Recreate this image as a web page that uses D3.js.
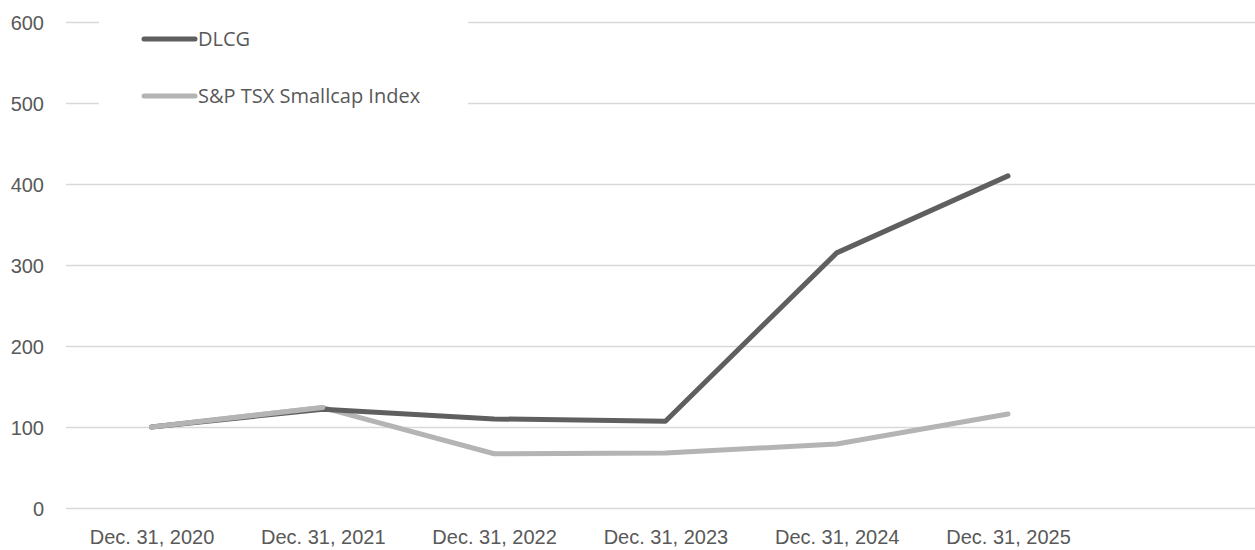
<!DOCTYPE html>
<html>
<head>
<meta charset="utf-8">
<script src="https://cdn.jsdelivr.net/npm/d3@7.9.0/dist/d3.min.js"></script>
<style>
  html, body { margin: 0; padding: 0; background: #fff; }
  svg { display: block; font-family: "Open Sans", sans-serif; }
  .grid line { stroke: #d9d9d9; stroke-width: 1.5; }
  .grid .domain { display: none; }
  .tick text { fill: #595959; font-size: 20px; }
  .legend text { fill: #595959; font-size: 20px; }
</style>
</head>
<body>
<div id="chart"></div>
<script>
// data
const dates = ["Dec. 31, 2020", "Dec. 31, 2021", "Dec. 31, 2022", "Dec. 31, 2023", "Dec. 31, 2024", "Dec. 31, 2025"];
const dlcg = [100, 122, 110, 107, 315, 410];
const smallcap = [100, 124, 67, 68, 79, 116];
const yTicks = [0, 100, 200, 300, 400, 500, 600];

const seriesNames = ["DLCG", "S&P TSX Smallcap Index"];
const seriesColors = ["#5f5f5f", "#b4b4b4"];

// adjust: chart size
const width = 1255;
const height = 550;

// adjust: plot area
const area = { left: 66, right: 1255, top: 22, bottom: 508 };

// adjust: line thickness
const lineWidth = 5;

const svg = d3.select("#chart")
  .append("svg")
  .attr("width", width)
  .attr("height", height);

const x = d3.scalePoint()
  .domain(dates)
  .range([151.5, 1008]);

const y = d3.scaleLinear()
  .domain([0, 600])
  .range([area.bottom, area.top]);

// gridlines
svg.append("g")
  .attr("class", "grid")
  .attr("transform", `translate(${area.left}, 0)`)
  .call(d3.axisLeft(y).tickValues(yTicks).tickFormat("").tickSize(-(area.right - area.left)));

// y labels
svg.append("g")
  .attr("transform", `translate(44, 0)`)
  .call(d3.axisLeft(y).tickValues(yTicks).tickSize(0).tickPadding(0))
  .call(g => g.select(".domain").remove())
  .selectAll("text")
  .attr("dy", "0.35em");

// x labels
svg.append("g")
  .attr("transform", `translate(0, ${area.bottom})`)
  .call(d3.axisBottom(x).tickSize(0).tickPadding(22))
  .call(g => g.select(".domain").remove())
  .selectAll("text")
  .attr("dy", "0.71em");

// legend background hides the grid behind it
svg.append("rect")
  .attr("x", 99)
  .attr("y", 10)
  .attr("width", 369)
  .attr("height", 105)
  .attr("fill", "#fff");

const line = d3.line()
  .x((d, i) => x(dates[i]))
  .y(d => y(d));

// index first, DLCG on top
const series = [smallcap, dlcg];
const order = [1, 0];

svg.append("g")
  .selectAll("path")
  .data(series)
  .join("path")
  .attr("d", d => line(d))
  .attr("fill", "none")
  .attr("stroke", (d, i) => seriesColors[order[i]])
  .attr("stroke-width", lineWidth)
  .attr("stroke-linecap", "round")
  .attr("stroke-linejoin", "round");

// first segment of the index sits over DLCG in the reference
svg.append("path")
  .attr("d", line(smallcap.slice(0, 2)))
  .attr("fill", "none")
  .attr("stroke", seriesColors[1])
  .attr("stroke-width", lineWidth)
  .attr("stroke-linecap", "round");

// legend
const legendY = [39, 96];
const legend = svg.append("g")
  .attr("class", "legend")
  .selectAll("g")
  .data(seriesNames)
  .join("g")
  .attr("transform", (d, i) => `translate(144, ${legendY[i]})`);

legend.append("line")
  .attr("x1", 0)
  .attr("x2", 51)
  .attr("stroke", (d, i) => seriesColors[i])
  .attr("stroke-width", lineWidth)
  .attr("stroke-linecap", "round");

legend.append("text")
  .attr("x", 54)
  .attr("dy", "0.35em")
  .text(d => d);
</script>
</body>
</html>
